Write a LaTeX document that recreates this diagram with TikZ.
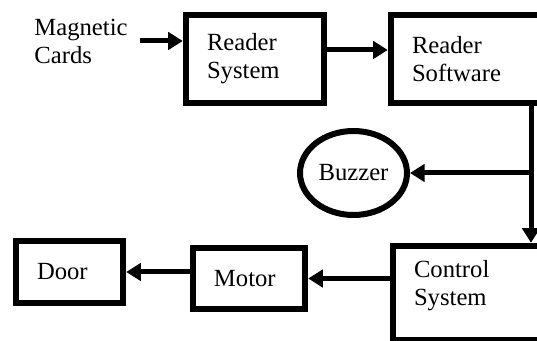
\documentclass[tikz,border=0pt]{standalone}
\usepackage{fontspec}
\setmainfont{Liberation Serif}
\usetikzlibrary{arrows.meta, shapes.geometric}
\tikzset{
  block/.style={rectangle, draw=black, line width=4.8pt, align=left, inner xsep=15.75pt, inner ysep=0pt},
  buzz/.style={ellipse, draw=black, line width=4.5pt, inner sep=0pt, minimum width=80.25pt, minimum height=63pt},
  plain/.style={align=left, inner sep=9pt},
  arrow/.style={line width=3.75pt, -{Triangle[length=11pt,width=13pt]}}
}
\begin{document}
\begin{tikzpicture}[x=0.75pt, y=-0.75pt, font=\fontsize{18.5}{21}\selectfont]
  \useasboundingbox (0,0) rectangle (537,341);
  \clip (0,0) rectangle (537,341);

  % Input and reader
  \node (cards) [plain] at (81,41) {Magnetic\\Cards};
  \node (rsys) [block, text width=72pt, minimum height=66pt] at (255,59) {Reader\\System};
  \node (rsoft) [block, text width=95.25pt, minimum height=66pt] at (475.5,59) {Reader\\Software};

  % Outputs
  \node (buzzer) [buzz] at (353.5,173) {Buzzer};
  \node (ctrl) [block, text width=93.75pt, minimum height=70.5pt, text depth=36pt] at (476.5,293) {Control\\System};
  \node (motor) [block, text width=52.5pt, minimum height=45.75pt] at (249,278.5) {Motor};
  \node (door) [block, text width=48.75pt, minimum height=46.5pt] at (69.5,272) {Door};

  % Connections
  \coordinate (split) at (531,173);
  \draw [arrow] (cards.east) -- (cards.east -| rsys.west);
  \draw [arrow] ([yshift=6.75pt]rsys.east) -- ([yshift=6.75pt]rsoft.west);
  \draw [arrow] (rsoft.south -| split) -- (split) -- (split |- ctrl.north);
  \draw [arrow] (split) -- (buzzer.east);
  \draw [arrow] (ctrl.west |- motor) -- (motor.east);
  \draw [arrow] (motor.west |- door) -- (door.east);

\end{tikzpicture}
\end{document}
